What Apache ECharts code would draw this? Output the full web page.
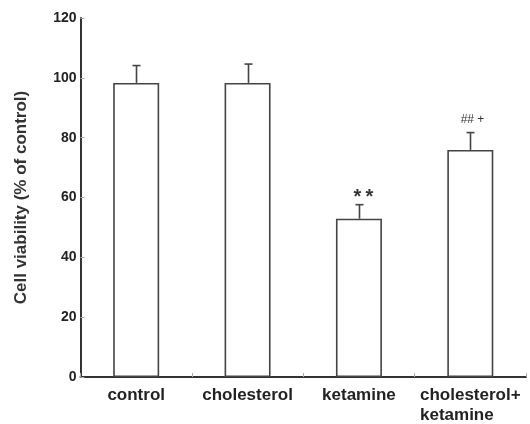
<!DOCTYPE html>
<html>
<head>
<meta charset="utf-8">
<script src="https://cdn.jsdelivr.net/npm/echarts@6/dist/echarts.min.js"></script>
<style>
html,body{margin:0;padding:0;background:#fff;}
#main{width:530px;height:424px;}
</style>
</head>
<body>
<div id="main"></div>
<script>
var categories = ['control', 'cholesterol', 'ketamine', 'cholesterol+\nketamine'];
var means = [98.3, 98.3, 52.9, 75.9];
var errors = [5.8, 6.3, 4.7, 5.8];
var annotations = ['', '', '**', '## +'];
var yTicks = { min: 0, max: 120, interval: 20 };
var yName = 'Cell viability (% of control)';

var FONT = 'Liberation Sans, Arial, sans-serif';
var chart = echarts.init(document.getElementById('main'), null, { renderer: 'canvas' });

var errData = means.map(function (m, i) { return [i, m, errors[i]]; });

chart.setOption({
  animation: false,
  backgroundColor: '#ffffff',
  grid: { left: 80.5, right: 4, top: 18, bottom: 47 },
  xAxis: {
    type: 'category',
    data: categories,
    boundaryGap: true,
    axisLine: { lineStyle: { color: '#333', width: 2 } },
    axisTick: { show: true, inside: true, length: 4, lineStyle: { color: '#aaa', width: 1 } },
    axisLabel: {
      interval: 0,
      margin: 8,
      formatter: function (v) {
        return v.split('\n').map(function (s) { return '{l|' + s + '}'; }).join('\n');
      },
      rich: {
        l: { color: '#222', fontFamily: FONT, fontWeight: 'bold', fontSize: 17, lineHeight: 20, align: 'left' }
      }
    }
  },
  yAxis: {
    type: 'value',
    min: yTicks.min, max: yTicks.max, interval: yTicks.interval,
    name: yName,
    nameLocation: 'middle',
    nameGap: 51,
    nameTextStyle: { color: '#333', fontFamily: FONT, fontWeight: 'bold', fontSize: 17 },
    axisLine: { show: true, lineStyle: { color: '#333', width: 2 } },
    axisTick: { show: true, inside: true, length: 4, lineStyle: { color: '#aaa', width: 1 } },
    splitLine: { show: false },
    axisLabel: { color: '#222', fontFamily: FONT, fontWeight: 'bold', fontSize: 14, margin: 4 }
  },
  series: [
    {
      type: 'bar',
      data: means,
      barWidth: 46,
      itemStyle: { color: '#ffffff', borderColor: '#444', borderWidth: 1.6 },
      z: 2
    },
    {
      type: 'custom',
      data: errData,
      encode: { x: 0, y: 1 },
      z: 3,
      renderItem: function (params, api) {
        var i = api.value(0);
        var m = api.value(1);
        var e = api.value(2);
        var base = api.coord([i, m]);
        var top = api.coord([i, m + e]);
        var x = Math.round(base[0]) + 0.5;
        var cap = 4;
        var children = [
          { type: 'line', shape: { x1: x, y1: base[1], x2: x, y2: top[1] }, style: { stroke: '#444', lineWidth: 1.6 } },
          { type: 'line', shape: { x1: x - cap, y1: top[1], x2: x + cap, y2: top[1] }, style: { stroke: '#444', lineWidth: 1.6 } }
        ];
        var ann = annotations[params.dataIndex];
        if (ann === '**') {
          var chars = ann.split('');
          chars.forEach(function (c, k) {
            children.push({
              type: 'text',
              style: { text: c, x: x - 2 + k * 12, y: top[1] - 7, align: 'center', verticalAlign: 'middle',
                font: 'bold 20px ' + FONT, fill: '#333' }
            });
          });
        } else if (ann) {
          children.push({
            type: 'text',
            style: { text: ann, x: x + 2, y: top[1] - 13, align: 'center', verticalAlign: 'middle',
              font: '12px ' + FONT, fill: '#333' }
          });
        }
        return { type: 'group', children: children };
      }
    }
  ]
});
</script>
</body>
</html>
